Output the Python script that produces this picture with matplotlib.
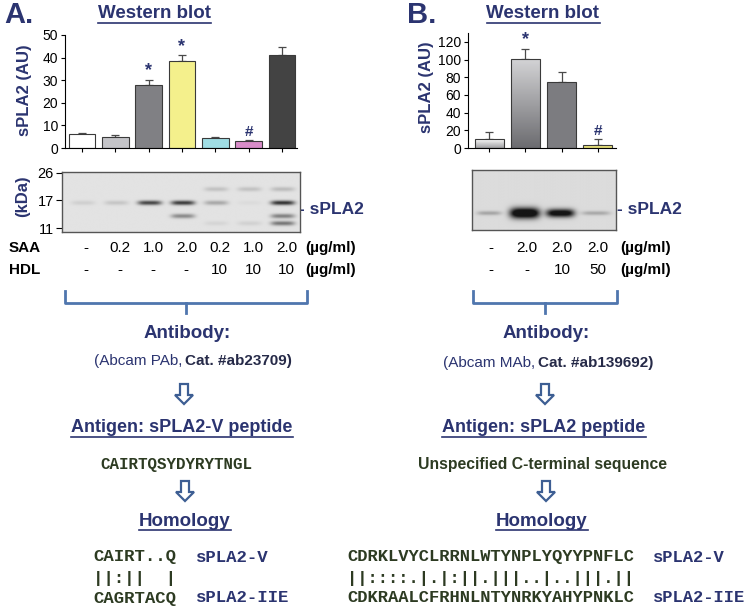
import numpy as np
import matplotlib
matplotlib.use('Agg')
import matplotlib.pyplot as plt
from matplotlib.colors import LinearSegmentedColormap
from matplotlib.patches import Polygon
from matplotlib import transforms

plt.rcParams['font.family'] = ['Liberation Sans', 'DejaVu Sans']

# ---- data ----
# panel A bar chart (sPLA2, AU)
a_values = [6.3, 5.0, 28.0, 38.5, 4.5, 3.3, 41.0]
a_errors = [0.3, 0.6, 2.0, 2.5, 0.5, 0.4, 3.5]
a_colors = ['#FFFFFF', '#C4C4C8', '#808084', '#F4F08C', '#A0DDE4', '#D88CC8', '#434343']
a_marks = ['', '', '*', '*', '', '#', '']

# panel B bar chart
b_values = [10.0, 101.0, 75.0, 3.5]
b_errors = [8.0, 11.0, 11.0, 7.0]
b_colors = ['#E6E6E6', '#B4B4B6', '#7C7C80', '#E8E27A']
b_gradients = [('#FAFAFA', '#A0A0A2'), ('#D4D4D6', '#6C6C70'), None, None]
b_marks = ['', '*', '', '#']

# panel A blot bands: lane, kDa, strength
a_band_lane = [1, 2, 3, 4, 5, 6, 7, 5, 6, 7, 4, 7, 5, 6, 7]
a_band_kda = [16.2, 16.2, 16.2, 16.2, 16.2, 16.2, 16.2, 20.0, 20.0, 20.0, 13.2, 13.2, 11.8, 11.8, 11.8]
a_band_strength = [0.1, 0.15, 0.8, 0.85, 0.3, 0.04, 0.9, 0.17, 0.17, 0.2, 0.45, 0.5, 0.07, 0.09, 0.55]
a_kda_ticks = [11, 17, 26]

# panel B blot band (single band per lane)
b_band_strength = [0.28, 1.4, 1.2, 0.26]
b_band_height = [0.035, 0.09, 0.07, 0.035]
b_band_width = [0.34, 0.42, 0.4, 0.4]

saa_a = ['-', '0.2', '1.0', '2.0', '0.2', '1.0', '2.0']
hdl_a = ['-', '-', '-', '-', '10', '10', '10']
saa_b = ['-', '2.0', '2.0', '2.0']
hdl_b = ['-', '-', '10', '50']

seq_a = ['CAIRT..Q', '||:||  |', 'CAGRTACQ']
seq_b = ['CDRKLVYCLRRNLWTYNPLYQYYPNFLC',
         '||::::.|.|:||.|||..|..|||.||',
         'CDKRAALCFRHNLNTYNRKYAHYPNKLC']
seq_names = ['sPLA2-V', '', 'sPLA2-IIE']

NAVY = '#2B3470'
GREEN = '#2D3B22'
BLUE = '#4F76AE'

W, H = 749, 608
fig = plt.figure(figsize=(W / 100, H / 100), dpi=100)

# overlay in pixel coordinates for text and decorations
ov = fig.add_axes([0, 0, 1, 1])
ov.set_xlim(0, W)
ov.set_ylim(H, 0)
ov.axis('off')


def px_axes(x0, y0, x1, y1):
    return fig.add_axes([x0 / W, 1 - y1 / H, (x1 - x0) / W, (y1 - y0) / H])


def style_bar_axes(ax):
    for s in ['top', 'right']:
        ax.spines[s].set_visible(False)
    ax.tick_params(axis='both', direction='out', length=3, width=0.8, labelsize=10, pad=2)
    ax.set_xticklabels([])


# ---- panel A bars ----
axA = px_axes(65, 35, 297, 148)
xa = np.arange(1, len(a_values) + 1)
axA.bar(xa, a_values, width=0.8, color=a_colors, edgecolor='#3A3A3A', lw=0.8, zorder=2)
axA.errorbar(xa, a_values, yerr=[np.zeros(len(xa)), a_errors], fmt='none',
             ecolor='#4A4A4A', capsize=3, elinewidth=0.9, capthick=0.9, zorder=1)
for xi, v, e, m in zip(xa, a_values, a_errors, a_marks):
    if m:
        axA.text(xi, v + e + 0.3, m, ha='center', va='bottom', color=NAVY,
                 fontsize=13 if m == '*' else 11, fontweight='bold')
axA.set_xlim(0.49, 7.45)
axA.set_ylim(0, 50)
axA.set_xticks(xa)
axA.set_yticks(range(0, 51, 10))
style_bar_axes(axA)

# ---- panel B bars ----
axB = px_axes(468, 33, 616, 148)
xb = np.arange(1, len(b_values) + 1)
bars = axB.bar(xb, b_values, width=0.8, color=b_colors, edgecolor='#3A3A3A', lw=0.8, zorder=2)
for bar, g in zip(bars, b_gradients):
    if g is None:
        continue
    cm = LinearSegmentedColormap.from_list('g', [g[0], g[1]])
    grad = np.linspace(0, 1, 100).reshape(-1, 1)
    im = axB.imshow(grad, cmap=cm, aspect='auto', origin='upper', zorder=2.1,
                    extent=[bar.get_x(), bar.get_x() + bar.get_width(), 0, bar.get_height()])
    im.set_clip_path(bar)
    bar.set_facecolor('none')
    bar.set_zorder(2.2)
axB.errorbar(xb, b_values, yerr=[np.zeros(len(xb)), b_errors], fmt='none',
             ecolor='#4A4A4A', capsize=3, elinewidth=0.9, capthick=0.9, zorder=1)
for xi, v, e, m in zip(xb, b_values, b_errors, b_marks):
    if m:
        axB.text(xi, v + e + 1, m, ha='center', va='bottom', color=NAVY,
                 fontsize=13 if m == '*' else 11, fontweight='bold')
axB.set_xlim(0.42, 4.5)
axB.set_ylim(0, 130)
axB.set_xticks(xb)
axB.set_yticks(range(0, 121, 20))
style_bar_axes(axB)


# ---- blots ----
def blot_image(xlim, ylim, lanes, pos, strength, wx, wy, bg):
    xs = np.linspace(xlim[0], xlim[1], 500)
    ys = np.linspace(ylim[0], ylim[1], 160)
    X, Y = np.meshgrid(xs, ys)
    dark = np.zeros_like(X)
    for l, p, s, w, h in zip(lanes, pos, strength, wx, wy):
        dark += s * np.exp(-np.abs((X - l) / w) ** 4) * np.exp(-((Y - p) / h) ** 2)
    return bg - 0.78 * np.clip(dark, 0, 1)


blotA = px_axes(62, 172, 300, 232)
xlimA = (0.37, 7.51)
ylimA = (np.log(10.35), np.log(26.4))
imgA = blot_image(xlimA, ylimA, a_band_lane, np.log(a_band_kda), a_band_strength,
                  [0.36] * len(a_band_lane), [0.035] * len(a_band_lane), 0.89)
blotA.imshow(imgA, cmap='gray', vmin=0, vmax=1, origin='lower', aspect='auto',
             extent=[xlimA[0], xlimA[1], ylimA[0], ylimA[1]], interpolation='bilinear')
blotA.set_xlim(*xlimA)
blotA.set_ylim(*ylimA)
blotA.set_xticks([])
blotA.set_yticks(np.log(a_kda_ticks))
blotA.set_yticklabels([str(k) for k in a_kda_ticks])
blotA.tick_params(axis='y', length=4, width=0.8, labelsize=10.5, pad=2)
for s in blotA.spines.values():
    s.set_color('#555555')
    s.set_linewidth(1.0)

blotB = px_axes(472, 170, 616, 230)
xlimB = (0.52, 4.56)
nb = len(b_band_strength)
imgB = blot_image(xlimB, (0, 1), list(range(1, nb + 1)), [0.28] * nb, b_band_strength,
                  b_band_width, b_band_height, 0.86)
blotB.imshow(imgB, cmap='gray', vmin=0, vmax=1, origin='lower', aspect='auto',
             extent=[xlimB[0], xlimB[1], 0, 1], interpolation='bilinear')
blotB.set_xlim(*xlimB)
blotB.set_ylim(0, 1)
blotB.set_xticks([])
blotB.set_yticks([])
for s in blotB.spines.values():
    s.set_color('#555555')
    s.set_linewidth(1.0)

# condition rows
trA = transforms.blended_transform_factory(blotA.transData, ov.transData)
trB = transforms.blended_transform_factory(blotB.transData, ov.transData)
for i, (s, h) in enumerate(zip(saa_a, hdl_a)):
    ov.text(i + 1.1, 248, s, transform=trA, ha='center', va='center', fontsize=11)
    ov.text(i + 1.1, 270, h, transform=trA, ha='center', va='center', fontsize=11)
for i, (s, h) in enumerate(zip(saa_b, hdl_b)):
    ov.text(i + 1.05, 248, s, transform=trB, ha='center', va='center', fontsize=11)
    ov.text(i + 1.05, 270, h, transform=trB, ha='center', va='center', fontsize=11)
ov.text(9, 248, 'SAA', ha='left', va='center', fontsize=11, fontweight='bold')
ov.text(9, 270, 'HDL', ha='left', va='center', fontsize=11, fontweight='bold')
for xx in [305, 620]:
    ov.text(xx, 248, '(µg/ml)', ha='left', va='center', fontsize=11, fontweight='bold')
    ov.text(xx, 270, '(µg/ml)', ha='left', va='center', fontsize=11, fontweight='bold')

# ---- texts ----
ov.text(4, 15, 'A.', ha='left', va='center', fontsize=21, fontweight='bold', color=NAVY)
ov.text(407, 15, 'B.', ha='left', va='center', fontsize=21, fontweight='bold', color=NAVY)
ov.text(25, 90, 'sPLA2 (AU)', rotation=90, ha='center', va='center', fontsize=12,
        fontweight='bold', color=NAVY)
ov.text(427, 87, 'sPLA2 (AU)', rotation=90, ha='center', va='center', fontsize=12,
        fontweight='bold', color=NAVY)
ov.text(23, 196, '(kDa)', rotation=90, ha='center', va='center', fontsize=12,
        fontweight='bold', color=NAVY)
ov.text(299, 209, '- sPLA2', ha='left', va='center', fontsize=12.5, fontweight='bold', color=NAVY)
ov.text(617, 210, '- sPLA2', ha='left', va='center', fontsize=12.5, fontweight='bold', color=NAVY)

underlined = []
underlined.append(ov.text(154, 14, 'Western blot', ha='center', va='center', fontsize=13.5,
                          fontweight='bold', color=NAVY))
underlined.append(ov.text(543, 14, 'Western blot', ha='center', va='center', fontsize=13.5,
                          fontweight='bold', color=NAVY))

ov.text(187, 333, 'Antibody:', ha='center', va='center', fontsize=13.5, fontweight='bold', color=NAVY)
ov.text(546, 334, 'Antibody:', ha='center', va='center', fontsize=13.5, fontweight='bold', color=NAVY)
ov.text(182, 361, '(Abcam PAb,', ha='right', va='center', fontsize=11, color=NAVY)
ov.text(185, 361, 'Cat. #ab23709)', ha='left', va='center', fontsize=11, fontweight='bold',
        color='#262A48')
ov.text(535, 363, '(Abcam MAb,', ha='right', va='center', fontsize=11, color=NAVY)
ov.text(538, 363, 'Cat. #ab139692)', ha='left', va='center', fontsize=11, fontweight='bold',
        color='#262A48')

underlined.append(ov.text(182, 428, 'Antigen: sPLA2-V peptide', ha='center', va='center',
                          fontsize=13, fontweight='bold', color=NAVY))
underlined.append(ov.text(544, 428, 'Antigen: sPLA2 peptide', ha='center', va='center',
                          fontsize=13, fontweight='bold', color=NAVY))
ov.text(176, 464, 'CAIRTQSYDYRYTNGL', ha='center', va='center', fontsize=11.4,
        family='Liberation Mono', fontweight='bold', color=GREEN)
ov.text(543, 464, 'Unspecified C-terminal sequence', ha='center', va='center', fontsize=11.3,
        fontweight='bold', color=GREEN)
underlined.append(ov.text(185, 521, 'Homology', ha='center', va='center', fontsize=13.5,
                          fontweight='bold', color=NAVY))
underlined.append(ov.text(542, 521, 'Homology', ha='center', va='center', fontsize=13.5,
                          fontweight='bold', color=NAVY))

seq_y = [557, 578, 598]
for yy, sa, sb, nm in zip(seq_y, seq_a, seq_b, seq_names):
    ov.text(93, yy, sa, ha='left', va='center', fontsize=12.5, family='Liberation Mono',
            fontweight='bold', color=GREEN)
    ov.text(347, yy, sb, ha='left', va='center', fontsize=12.3, family='Liberation Mono',
            fontweight='bold', color=GREEN)
    if nm:
        ov.text(196, yy, nm, ha='left', va='center', fontsize=12.5, family='Liberation Mono',
                fontweight='bold', color=NAVY)
        ov.text(653, yy, nm, ha='left', va='center', fontsize=12.3, family='Liberation Mono',
                fontweight='bold', color=NAVY)

# underlines from the rendered text extents
fig.canvas.draw()
for t in underlined:
    bb = t.get_window_extent()
    ov.plot([bb.x0, bb.x1], [H - bb.y0 + 0.5] * 2, color=NAVY, lw=1.2)

# brackets
for x0, x1 in [(65, 307), (473, 617)]:
    ov.plot([x0, x0, x1, x1], [291, 303, 303, 291], color=BLUE, lw=2, solid_joinstyle='round')
    xc = (x0 + x1) / 2
    ov.plot([xc, xc], [303, 313], color=BLUE, lw=2)


# hollow down arrows
def down_arrow(xc, y0):
    pts = [(xc - 4, y0), (xc + 4, y0), (xc + 4, y0 + 11), (xc + 9, y0 + 11),
           (xc, y0 + 20), (xc - 9, y0 + 11), (xc - 4, y0 + 11)]
    ov.add_patch(Polygon(pts, closed=True, facecolor='white', edgecolor='#3D5E93', lw=1.6))


for xc, y0 in [(184, 384), (545, 384), (185, 481), (546, 481)]:
    down_arrow(xc, y0)

fig.savefig('out.png', dpi=100)
